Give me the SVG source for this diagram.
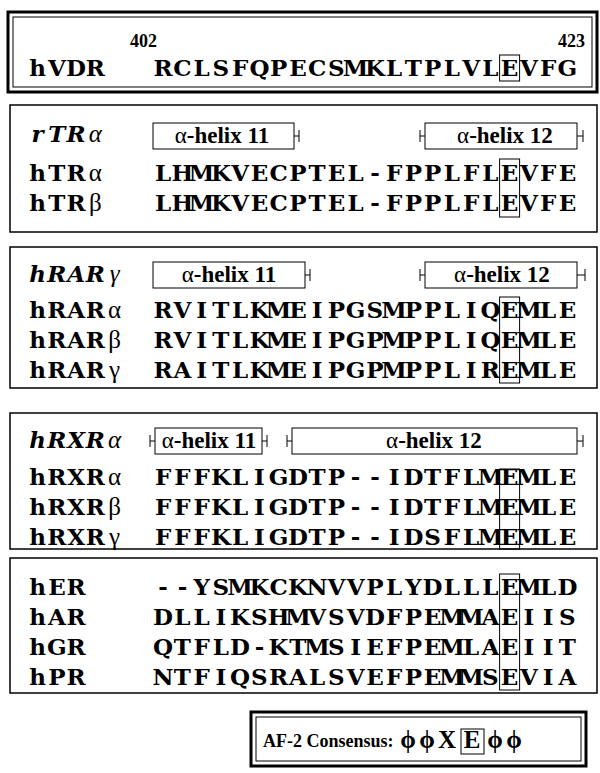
<svg xmlns="http://www.w3.org/2000/svg" width="600" height="773" viewBox="0 0 600 773">
<style>
.frame{fill:none;stroke:#000;stroke-width:1.5}
.thick{fill:none;stroke:#000;stroke-width:3}
.thin{fill:none;stroke:#000;stroke-width:1}
.ebox{fill:none;stroke:#000;stroke-width:1}
.hbox{fill:#fff;stroke:#000;stroke-width:1}
.tick{fill:none;stroke:#000;stroke-width:1}
.seq{font-family:"DejaVu Serif","Liberation Serif",serif;font-weight:bold;font-size:23px;fill:#000;text-anchor:middle}
.it{font-style:italic}
.gr{font-family:"Liberation Serif","Times New Roman",serif;font-weight:normal;font-size:25px}
.num{font-family:"Liberation Serif","Times New Roman",serif;font-weight:bold;font-size:18px;fill:#000}
.hx{font-family:"Liberation Serif","Times New Roman",serif;font-weight:bold;font-size:23px;fill:#000;text-anchor:middle}
.al{font-weight:normal}
.cons{font-family:"Liberation Serif","Times New Roman",serif;font-weight:bold;font-size:18px;fill:#000}
.csym{font-family:"Liberation Serif","Times New Roman",serif;font-weight:bold;font-size:25px;fill:#000;text-anchor:middle}
</style>

<g id="box-vdr">
<rect class="thick" x="8" y="12" width="589" height="80"/>
<rect class="thin" x="13" y="17" width="579" height="70"/>
<text class="num" x="130" y="47">402</text>
<text class="num" x="585" y="47" text-anchor="end">423</text>
<text class="seq" x="37.6 56.9 76.1 95.4" y="76">hVDR</text>
<text class="seq" x="163.1 182.4 201.6 220.9 240.1 259.4 278.6 297.9 317.1 336.4 355.6 374.9 394.1 413.4 432.6 451.9 471.1 490.4 509.6 528.9 548.1 567.4" y="76">RCLSFQPECSMKLTPLVLEVFG</text>
<rect class="ebox" x="499.6" y="55" width="20" height="26"/>
</g>

<g id="box-tr">
<rect class="frame" x="10" y="105" width="587" height="127"/>
<text class="seq it" x="37.6 56.9 76.1 95.4" y="142">rTR<tspan class="gr">α</tspan></text>
<rect class="hbox" x="153" y="123" width="141" height="26"/>
<text class="hx" x="222" y="143"><tspan class="al">α</tspan>-helix 11</text>
<path class="tick" d="M294 136h5M299 130v12"/>
<rect class="hbox" x="425" y="123" width="152" height="26"/>
<text class="hx" x="505" y="143"><tspan class="al">α</tspan>-helix 12</text>
<path class="tick" d="M425 136h-5M420 130v12M577 136h6M583 130v12"/>
<text class="seq" x="37.6 56.9 76.1 95.4" y="181">hTR<tspan class="gr">α</tspan></text>
<text class="seq" x="37.6 56.9 76.1 95.4" y="211">hTR<tspan class="gr">β</tspan></text>
<text class="seq" x="163.1 182.4 201.6 220.9 240.1 259.4 278.6 297.9 317.1 336.4 355.6 374.9 394.1 413.4 432.6 451.9 471.1 490.4 509.6 528.9 548.1 567.4" y="181">LHMKVECPTEL-FPPLFLEVFE</text>
<text class="seq" x="163.1 182.4 201.6 220.9 240.1 259.4 278.6 297.9 317.1 336.4 355.6 374.9 394.1 413.4 432.6 451.9 471.1 490.4 509.6 528.9 548.1 567.4" y="211">LHMKVECPTEL-FPPLFLEVFE</text>
<rect class="ebox" x="499.6" y="159" width="20" height="58"/>
</g>

<g id="box-rar">
<rect class="frame" x="10" y="247" width="587" height="141"/>
<text class="seq it" x="37.6 56.9 76.1 95.4 114.6" y="282">hRAR<tspan class="gr">γ</tspan></text>
<rect class="hbox" x="153" y="262" width="152" height="26"/>
<text class="hx" x="229" y="282"><tspan class="al">α</tspan>-helix 11</text>
<path class="tick" d="M305 275h5M310 269v12"/>
<rect class="hbox" x="425" y="262" width="152" height="26"/>
<text class="hx" x="502" y="282"><tspan class="al">α</tspan>-helix 12</text>
<path class="tick" d="M425 275h-5M420 269v12M577 275h8M585 269v12"/>
<text class="seq" x="37.6 56.9 76.1 95.4 114.6" y="318">hRAR<tspan class="gr">α</tspan></text>
<text class="seq" x="37.6 56.9 76.1 95.4 114.6" y="348">hRAR<tspan class="gr">β</tspan></text>
<text class="seq" x="37.6 56.9 76.1 95.4 114.6" y="378">hRAR<tspan class="gr">γ</tspan></text>
<text class="seq" x="163.1 182.4 201.6 220.9 240.1 259.4 278.6 297.9 317.1 336.4 355.6 374.9 394.1 413.4 432.6 451.9 471.1 490.4 509.6 528.9 548.1 567.4" y="318">RVITLKMEIPGSMPPLIQEMLE</text>
<text class="seq" x="163.1 182.4 201.6 220.9 240.1 259.4 278.6 297.9 317.1 336.4 355.6 374.9 394.1 413.4 432.6 451.9 471.1 490.4 509.6 528.9 548.1 567.4" y="348">RVITLKMEIPGPMPPLIQEMLE</text>
<text class="seq" x="163.1 182.4 201.6 220.9 240.1 259.4 278.6 297.9 317.1 336.4 355.6 374.9 394.1 413.4 432.6 451.9 471.1 490.4 509.6 528.9 548.1 567.4" y="378">RAITLKMEIPGPMPPLIREMLE</text>
<rect class="ebox" x="499.6" y="297" width="20" height="86"/>
</g>

<g id="box-rxr">
<rect class="frame" x="10" y="413" width="587" height="136"/>
<text class="seq it" x="37.6 56.9 76.1 95.4 114.6" y="448">hRXR<tspan class="gr">α</tspan></text>
<rect class="hbox" x="155" y="428" width="107" height="26"/>
<text class="hx" x="209" y="448"><tspan class="al">α</tspan>-helix 11</text>
<path class="tick" d="M155 441h-5M150 435v12M262 441h5M267 435v12"/>
<rect class="hbox" x="292" y="428" width="285" height="26"/>
<text class="hx" x="434" y="448"><tspan class="al">α</tspan>-helix 12</text>
<path class="tick" d="M292 441h-5M287 435v12M577 441h6M583 435v12"/>
<text class="seq" x="37.6 56.9 76.1 95.4 114.6" y="485">hRXR<tspan class="gr">α</tspan></text>
<text class="seq" x="37.6 56.9 76.1 95.4 114.6" y="515">hRXR<tspan class="gr">β</tspan></text>
<text class="seq" x="37.6 56.9 76.1 95.4 114.6" y="545">hRXR<tspan class="gr">γ</tspan></text>
<text class="seq" x="163.1 182.4 201.6 220.9 240.1 259.4 278.6 297.9 317.1 336.4 355.6 374.9 394.1 413.4 432.6 451.9 471.1 490.4 509.6 528.9 548.1 567.4" y="485">FFFKLIGDTP--IDTFLMEMLE</text>
<text class="seq" x="163.1 182.4 201.6 220.9 240.1 259.4 278.6 297.9 317.1 336.4 355.6 374.9 394.1 413.4 432.6 451.9 471.1 490.4 509.6 528.9 548.1 567.4" y="515">FFFKLIGDTP--IDTFLMEMLE</text>
<text class="seq" x="163.1 182.4 201.6 220.9 240.1 259.4 278.6 297.9 317.1 336.4 355.6 374.9 394.1 413.4 432.6 451.9 471.1 490.4 509.6 528.9 548.1 567.4" y="545">FFFKLIGDTP--IDSFLMEMLE</text>
<rect class="ebox" x="499.6" y="469" width="20" height="80"/>
</g>

<g id="box-steroid">
<rect class="frame" x="10" y="558" width="587" height="135"/>
<text class="seq" x="37.6 56.9 76.1" y="595">hER</text>
<text class="seq" x="37.6 56.9 76.1" y="625">hAR</text>
<text class="seq" x="37.6 56.9 76.1" y="655">hGR</text>
<text class="seq" x="37.6 56.9 76.1" y="685">hPR</text>
<text class="seq" x="163.1 182.4 201.6 220.9 240.1 259.4 278.6 297.9 317.1 336.4 355.6 374.9 394.1 413.4 432.6 451.9 471.1 490.4 509.6 528.9 548.1 567.4" y="595">--YSMKCKNVVPLYDLLLEMLD</text>
<text class="seq" x="163.1 182.4 201.6 220.9 240.1 259.4 278.6 297.9 317.1 336.4 355.6 374.9 394.1 413.4 432.6 451.9 471.1 490.4 509.6 528.9 548.1 567.4" y="625">DLLIKSHMVSVDFPEMMAEIIS</text>
<text class="seq" x="163.1 182.4 201.6 220.9 240.1 259.4 278.6 297.9 317.1 336.4 355.6 374.9 394.1 413.4 432.6 451.9 471.1 490.4 509.6 528.9 548.1 567.4" y="655">QTFLD-KTMSIEFPEMLAEIIT</text>
<text class="seq" x="163.1 182.4 201.6 220.9 240.1 259.4 278.6 297.9 317.1 336.4 355.6 374.9 394.1 413.4 432.6 451.9 471.1 490.4 509.6 528.9 548.1 567.4" y="685">NTFIQSRALSVEFPEMMSEVIA</text>
<rect class="ebox" x="499.6" y="574" width="20" height="116"/>
</g>

<g id="consensus">
<rect class="thick" x="251" y="712" width="335" height="54"/>
<rect class="thin" x="256" y="717" width="325" height="44"/>
<text class="cons" x="263" y="747">AF-2 Consensus:</text>
<text class="csym" x="408 427 447 472 495 514" y="748">ϕϕXEϕϕ</text>
<rect class="ebox" x="461" y="729" width="23" height="25"/>
</g>
</svg>
